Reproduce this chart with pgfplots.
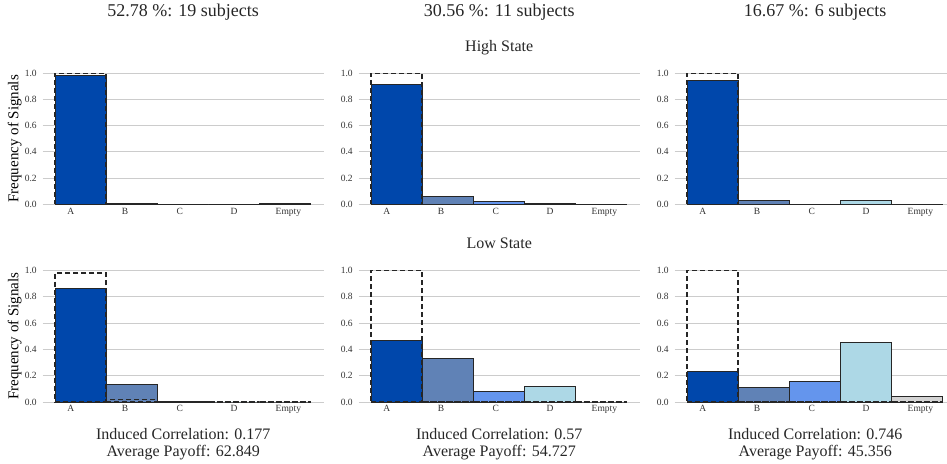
\documentclass[border=0pt]{standalone}
\usepackage{pgfplots}
\pgfplotsset{compat=1.18}
\usepackage{fontspec}
\setmainfont{Liberation Serif}

\definecolor{cA}{HTML}{0047AB}
\definecolor{cB}{HTML}{6082B6}
\definecolor{cC}{HTML}{6495ED}
\definecolor{cD}{HTML}{ADD8E6}
\definecolor{cE}{HTML}{D3D3D3}
\definecolor{edge}{HTML}{262626}
\definecolor{gridc}{HTML}{CCCCCC}

\pgfplotsset{
  panel/.style={
    scale only axis, width=281pt,
    xmin=-0.24, xmax=5.25, ymin=0, ymax=1,
    axis line style={draw=none},
    ytick={0,0.2,0.4,0.6,0.8,1.0},
    yticklabel style={/pgf/number format/fixed, /pgf/number format/fixed zerofill, /pgf/number format/precision=1, xshift=-2.5pt},
    ymajorgrids, grid style={color=gridc, line width=0.9pt},
    major tick length=0pt,
    xtick={0.31,1.37,2.44,3.5,4.56}, xticklabels={A,B,C,D,Empty},
    tick label style={font=\fontsize{9.5}{11}\selectfont, color=black!80},
    /pgf/number format/assume math mode=true,
    ybar, bar width=1, bar shift=0pt, clip=false,
    anchor=south west,
    every axis y label/.style={at={(axis description cs:-0.1,0.5)}, rotate=90, anchor=center, font=\fontsize{15}{18}\selectfont},
  },
  bA/.style={fill=cA, draw=edge, line width=0.9pt},
  bB/.style={fill=cB, draw=edge, line width=0.9pt},
  bC/.style={fill=cC, draw=edge, line width=0.9pt},
  bD/.style={fill=cD, draw=edge, line width=0.9pt},
  bE/.style={fill=cE, draw=edge, line width=0.9pt},
  dsh/.style={fill=none, draw=black!85, line width=1.5pt, dash pattern=on 5pt off 3pt},
}

\begin{document}
\begin{tikzpicture}
% ---------- High state ----------
\begin{axis}[panel, at={(42.7pt,258.7pt)}, height=131pt, ylabel={Frequency of Signals}]
\addplot[bA] coordinates {(0.5,0.987)};
\addplot[bB] coordinates {(1.5,0.004)};
\addplot[bC] coordinates {(2.5,0)};
\addplot[bD] coordinates {(3.5,0)};
\addplot[bE] coordinates {(4.5,0.005)};
\addplot[dsh] coordinates {(0.5,1.0) (1.5,0) (2.5,0) (3.5,0) (4.5,0)};
\end{axis}
\begin{axis}[panel, at={(358.7pt,258.7pt)}, height=131pt]
\addplot[bA] coordinates {(0.5,0.916)};
\addplot[bB] coordinates {(1.5,0.058)};
\addplot[bC] coordinates {(2.5,0.022)};
\addplot[bD] coordinates {(3.5,0.008)};
\addplot[bE] coordinates {(4.5,0)};
\addplot[dsh] coordinates {(0.5,1.0) (1.5,0) (2.5,0) (3.5,0) (4.5,0)};
\end{axis}
\begin{axis}[panel, at={(674.7pt,258.7pt)}, height=131pt]
\addplot[bA] coordinates {(0.5,0.944)};
\addplot[bB] coordinates {(1.5,0.028)};
\addplot[bC] coordinates {(2.5,0)};
\addplot[bD] coordinates {(3.5,0.028)};
\addplot[bE] coordinates {(4.5,0)};
\addplot[dsh] coordinates {(0.5,1.0) (1.5,0) (2.5,0) (3.5,0) (4.5,0)};
\end{axis}
% ---------- Low state ----------
\begin{axis}[panel, at={(42.7pt,61pt)}, height=131.7pt, ylabel={Frequency of Signals}]
\addplot[bA] coordinates {(0.5,0.863)};
\addplot[bB] coordinates {(1.5,0.134)};
\addplot[bC] coordinates {(2.5,0.003)};
\addplot[bD] coordinates {(3.5,0)};
\addplot[bE] coordinates {(4.5,0)};
\addplot[dsh] coordinates {(0.5,0.98) (1.5,0.02) (2.5,0) (3.5,0) (4.5,0)};
\end{axis}
\begin{axis}[panel, at={(358.7pt,61pt)}, height=131.7pt]
\addplot[bA] coordinates {(0.5,0.468)};
\addplot[bB] coordinates {(1.5,0.331)};
\addplot[bC] coordinates {(2.5,0.079)};
\addplot[bD] coordinates {(3.5,0.116)};
\addplot[bE] coordinates {(4.5,0)};
\addplot[dsh] coordinates {(0.5,1.0) (1.5,0) (2.5,0) (3.5,0) (4.5,0)};
\end{axis}
\begin{axis}[panel, at={(674.7pt,61pt)}, height=131.7pt]
\addplot[bA] coordinates {(0.5,0.234)};
\addplot[bB] coordinates {(1.5,0.113)};
\addplot[bC] coordinates {(2.5,0.153)};
\addplot[bD] coordinates {(3.5,0.455)};
\addplot[bE] coordinates {(4.5,0.04)};
\addplot[dsh] coordinates {(0.5,1.0) (1.5,0) (2.5,0) (3.5,0) (4.5,0)};
\end{axis}
% ---------- texts ----------
\begin{scope}[every node/.style={anchor=base, inner sep=0pt, text=black!85}]
\node[font=\fontsize{18}{21}\selectfont] at (183.2pt,446pt) {52.78 \%: 19 subjects};
\node[font=\fontsize{18}{21}\selectfont] at (499.2pt,446pt) {30.56 \%: 11 subjects};
\node[font=\fontsize{18}{21}\selectfont] at (815.2pt,446pt) {16.67 \%: 6 subjects};
\node[font=\fontsize{16}{19}\selectfont] at (499.2pt,411pt) {High State};
\node[font=\fontsize{16}{19}\selectfont] at (499.2pt,214pt) {Low State};
\node[font=\fontsize{16}{19}\selectfont] at (183.2pt,24pt) {Induced Correlation: 0.177};
\node[font=\fontsize{16}{19}\selectfont] at (183.2pt,7pt) {Average Payoff: 62.849};
\node[font=\fontsize{16}{19}\selectfont] at (499.2pt,24pt) {Induced Correlation: 0.57};
\node[font=\fontsize{16}{19}\selectfont] at (499.2pt,7pt) {Average Payoff: 54.727};
\node[font=\fontsize{16}{19}\selectfont] at (815.2pt,24pt) {Induced Correlation: 0.746};
\node[font=\fontsize{16}{19}\selectfont] at (815.2pt,7pt) {Average Payoff: 45.356};
\end{scope}
\pgfresetboundingbox
\path[use as bounding box] (0pt,0pt) rectangle (947pt,463pt);
\end{tikzpicture}
\end{document}
